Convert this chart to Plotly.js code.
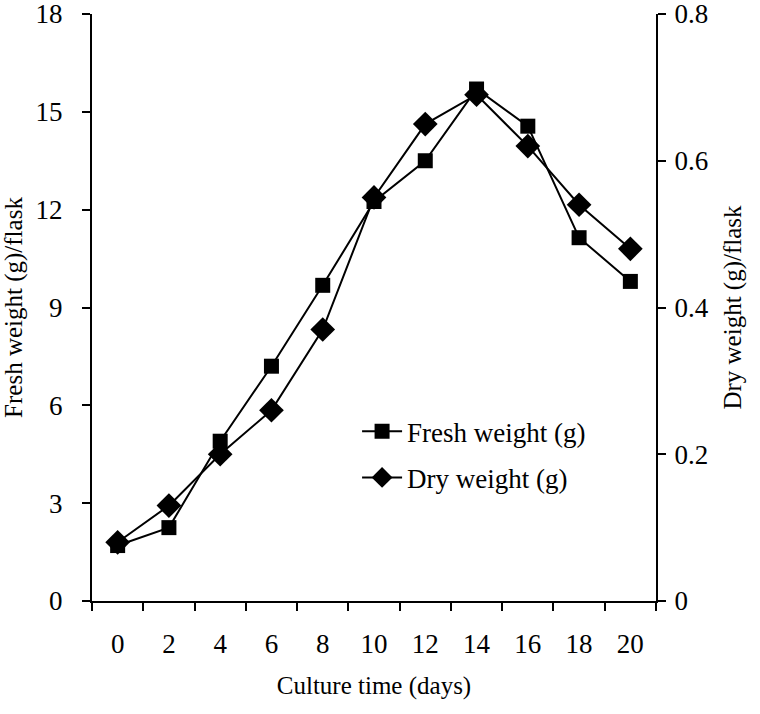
<!DOCTYPE html>
<html>
<head>
<meta charset="utf-8">
<script src="https://cdn.plot.ly/plotly-3.0.1.min.js"></script>
<style>html,body{margin:0;padding:0;background:#fff;}#chart{width:760px;height:714px;}</style>
</head>
<body>
<div id="chart"></div>
<script>
const days = [0, 2, 4, 6, 8, 10, 12, 14, 16, 18, 20];
const freshWeight = [1.7, 2.25, 4.9, 7.2, 9.68, 12.25, 13.5, 15.7, 14.56, 11.14, 9.8];
const dryWeight = [0.08, 0.13, 0.20, 0.26, 0.37, 0.55, 0.65, 0.69, 0.62, 0.54, 0.48];
const xTickVals = [0, 2, 4, 6, 8, 10, 12, 14, 16, 18, 20];
const xMinorTicks = [-1, 1, 3, 5, 7, 9, 11, 13, 15, 17, 19, 21];
const yLeftTicks = [0, 3, 6, 9, 12, 15, 18];
const yRightTicks = [0, 0.2, 0.4, 0.6, 0.8];
const yRightLabels = ['0', '0.2', '0.4', '0.6', '0.8'];

const FONT = 'Liberation Serif, Times New Roman, serif';
const FS = 25;
const TFS = 27;

const traces = [
  {
    x: days, y: freshWeight, name: 'Fresh weight (g)', type: 'scatter', mode: 'lines+markers',
    line: {color: '#000', width: 2}, marker: {symbol: 'square', size: 15, color: '#000'},
    legendgroup: 'a', yaxis: 'y'
  },
  {
    x: days, y: dryWeight, name: 'Dry weight (g)', type: 'scatter', mode: 'lines+markers',
    line: {color: '#000', width: 2}, marker: {symbol: 'diamond', size: 19, color: '#000'},
    legendgroup: 'b', yaxis: 'y2'
  }
];

const layout = {
  width: 760, height: 714,
  margin: {l: 92, r: 104, t: 14, b: 113},
  paper_bgcolor: '#fff', plot_bgcolor: '#fff',
  font: {family: FONT, size: FS, color: '#000'},
  showlegend: true,
  legend: {x: 0.47, y: 0.33, xanchor: 'left', yanchor: 'top', bgcolor: 'rgba(0,0,0,0)', itemwidth: 40,
           font: {family: FONT, size: TFS, color: '#000'}, traceorder: 'grouped', tracegroupgap: 8},
  xaxis: {
    range: [-1, 21], showgrid: false, zeroline: false,
    showline: true, linecolor: '#000', linewidth: 2,
    tickmode: 'array', tickvals: xTickVals, ticktext: xTickVals.map(String),
    ticks: '', ticklabelstandoff: 18, ticklabeloverflow: 'allow', tickfont: {family: FONT, size: TFS, color: '#000'},
    minor: {tickmode: 'array', tickvals: xMinorTicks, ticks: 'outside', ticklen: 8, tickwidth: 2, tickcolor: '#000', showgrid: false},
    title: {text: 'Culture time (days)', font: {family: FONT, size: FS, color: '#000'}, standoff: 18},
    fixedrange: true
  },
  yaxis: {
    range: [0, 18], showgrid: false, zeroline: false,
    showline: true, linecolor: '#000', linewidth: 2,
    tickmode: 'array', tickvals: yLeftTicks, ticks: 'outside', ticklen: 8, tickwidth: 2, tickcolor: '#000',
    ticklabelstandoff: 14, ticklabeloverflow: 'allow', tickfont: {family: FONT, size: TFS, color: '#000'},
    title: {text: 'Fresh weight (g)/flask', font: {family: FONT, size: FS, color: '#000'}, standoff: 6},
    fixedrange: true
  },
  yaxis2: {
    range: [0, 0.8], overlaying: 'y', side: 'right', showgrid: false, zeroline: false,
    showline: true, linecolor: '#000', linewidth: 2,
    tickmode: 'array', tickvals: yRightTicks, ticktext: yRightLabels, ticks: 'outside', ticklen: 8, tickwidth: 2, tickcolor: '#000',
    ticklabelstandoff: 3, ticklabeloverflow: 'allow', tickfont: {family: FONT, size: TFS, color: '#000'},
    title: {text: 'Dry weight (g)/flask', font: {family: FONT, size: FS, color: '#000'}, standoff: 16},
    fixedrange: true
  }
};

Plotly.newPlot('chart', traces, layout, {displayModeBar: false, staticPlot: true});
</script>
</body>
</html>
